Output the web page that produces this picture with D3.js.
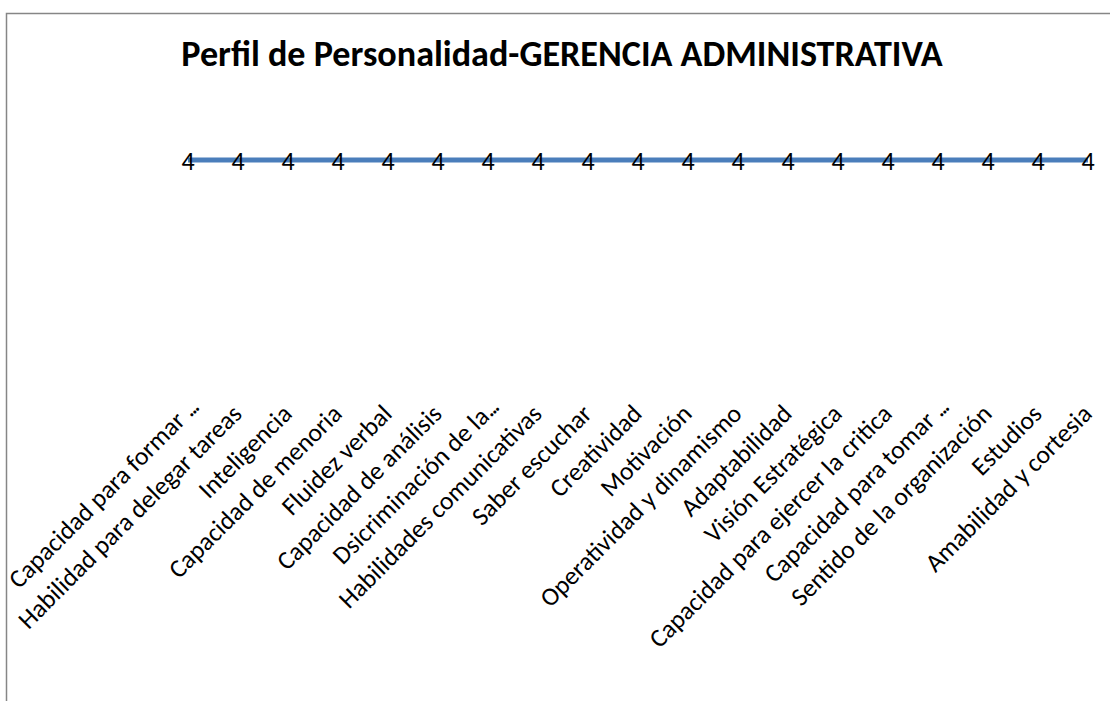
<!DOCTYPE html>
<html>
<head>
<meta charset="utf-8">
<script src="https://cdn.jsdelivr.net/npm/d3@7/dist/d3.min.js"></script>
<style>
  html, body { margin: 0; padding: 0; background: #fff; }
  svg { display: block; }
  text { font-family: Carlito, Calibri, Lato, "Open Sans", sans-serif; fill: #000; }
</style>
</head>
<body>
<svg id="chart" width="1110" height="701"></svg>
<script>
const title = "Perfil de Personalidad-GERENCIA ADMINISTRATIVA";
const categories = [
  "Capacidad para formar ...",
  "Habilidad para delegar tareas",
  "Inteligencia",
  "Capacidad de menoria",
  "Fluidez verbal",
  "Capacidad de análisis",
  "Dsicriminación de la...",
  "Habilidades comunicativas",
  "Saber escuchar",
  "Creatividad",
  "Motivación",
  "Operatividad y dinamismo",
  "Adaptabilidad",
  "Visión Estratégica",
  "Capacidad para ejercer la critica",
  "Capacidad para tomar ...",
  "Sentido de la organización",
  "Estudios",
  "Amabilidad y cortesia"
];
const values = [4,4,4,4,4,4,4,4,4,4,4,4,4,4,4,4,4,4,4];

const svg = d3.select("#chart");
const W = 1110, H = 701;

// chart border
svg.append("rect")
  .attr("x", 6.5).attr("y", 13.5)
  .attr("width", W + 20).attr("height", H + 20)
  .attr("fill", "#fff")
  .attr("stroke", "#868686")
  .attr("stroke-width", 1.5);

const plot = { left: 163, right: 1113, top: 105.5, bottom: 378 };

const x = d3.scalePoint().domain(categories).range([plot.left, plot.right]).padding(0.5);
const y = d3.scaleLinear().domain([0, 5]).range([plot.bottom, plot.top]);

function fitSize(str, weight, target) {
  const t = svg.append("text").attr("font-size", 100).attr("font-weight", weight).text(str);
  const len = t.node().getComputedTextLength();
  t.remove();
  return 100 * target / len;
}

// title
const titleSize = fitSize(title, "bold", 762);
svg.append("text")
  .attr("x", 562).attr("y", 66)
  .attr("text-anchor", "middle")
  .attr("font-weight", "bold")
  .attr("font-size", titleSize)
  .text(title);

// line
const line = d3.line().x((d, i) => x(categories[i])).y(d => y(d));
svg.append("path")
  .datum(values)
  .attr("d", line)
  .attr("fill", "none")
  .attr("stroke", "#4A7EBB")
  .attr("stroke-width", 5);

// data labels
svg.append("g").selectAll("text")
  .data(values)
  .join("text")
  .attr("x", (d, i) => x(categories[i]))
  .attr("y", d => y(d) + 0.5)
  .attr("dy", "0.35em")
  .attr("text-anchor", "middle")
  .attr("font-size", 26)
  .text(d => d);

// category axis labels
const labSize = fitSize("Habilidad para delegar tareas", "normal", 304);
const labs = svg.append("g").selectAll("text")
  .data(categories)
  .join("text")
  .attr("transform", d => `translate(${x(d) - 1},${plot.bottom + 31}) rotate(-45)`)
  .attr("dx", d => d.endsWith("...") ? 8 : 0)
  .attr("dy", "0.35em")
  .attr("text-anchor", "end")
  .attr("font-size", labSize);
labs.each(function(d) {
  const t = d3.select(this);
  if (d.endsWith("...")) {
    t.append("tspan").text(d.slice(0, -3));
    t.append("tspan").attr("letter-spacing", "-2.5").text("...");
  } else {
    t.text(d);
  }
});
</script>
</body>
</html>
